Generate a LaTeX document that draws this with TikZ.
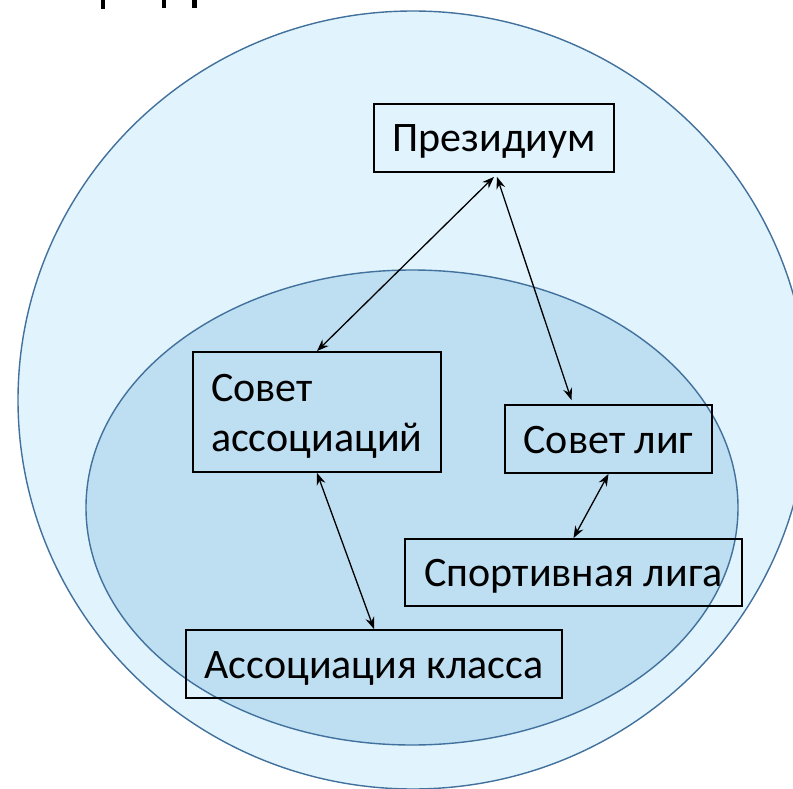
\documentclass[tikz,border=0pt]{standalone}
\usepackage{fontspec}
\setmainfont{Carlito}
\usetikzlibrary{arrows.meta}
\definecolor{outerfill}{RGB}{225,243,252}
\definecolor{innerfill}{RGB}{190,222,242}
\definecolor{ringline}{RGB}{65,113,156}
\tikzset{
  ring/.style={draw=ringline, line width=1.4pt},
  orgbox/.style={draw=black, line width=1.8pt, rectangle, inner sep=0pt,
    font=\fontsize{42}{50}\selectfont, text height=28pt, text depth=0pt},
  link/.style={black, line width=1.3pt, {Stealth[length=12pt,width=9pt,inset=4pt]}-{Stealth[length=12pt,width=9pt,inset=4pt]}}
}
\begin{document}
\begin{tikzpicture}[x=1pt,y=-1pt]
\useasboundingbox (0,0) rectangle (793,789);
\clip (0,0) rectangle (793,789);
\fill[white] (0,0) rectangle (793,789);
% title fragments cut off at the top
\fill[black] (101,0) rectangle (105,9);
\fill[black] (162,0) rectangle (166,8);
\fill[black] (192,0) rectangle (197,8);
% ellipses
\draw[ring, fill=outerfill] (413,400) ellipse [x radius=395, y radius=389];
\draw[ring, fill=innerfill] (412,507.5) ellipse [x radius=326, y radius=237.5];
% boxes
\node[orgbox, minimum width=240pt, minimum height=68pt] (prez) at (494,138) {Президиум};
\node[orgbox, minimum width=248pt, minimum height=120pt, text height=, text depth=] (sa) at (317,412) {};
\node[anchor=base west, inner sep=0pt, align=left, font=\fontsize{42}{50}\selectfont] (satext) at (211,451) {Совет\\ассоциаций};
\node[orgbox, minimum width=207pt, minimum height=68pt] (sl) at (608.5,439) {Совет лиг};
\node[orgbox, minimum width=337pt, minimum height=67pt] (sp) at (573.5,572.5) {Спортивная лига};
\node[orgbox, minimum width=376pt, minimum height=68pt] (ak) at (374,664) {Ассоциация класса};
% connectors
\draw[link] ([yshift=-4pt]prez.south) -- (sa.north);
\draw[link] ([xshift=3pt,yshift=-4pt]prez.south) -- ([xshift=-37pt,yshift=4pt]sl.north);
\draw[link] (sa.south) -- (ak.north);
\draw[link] (sl.south) -- (sp.north);
\end{tikzpicture}
\end{document}
